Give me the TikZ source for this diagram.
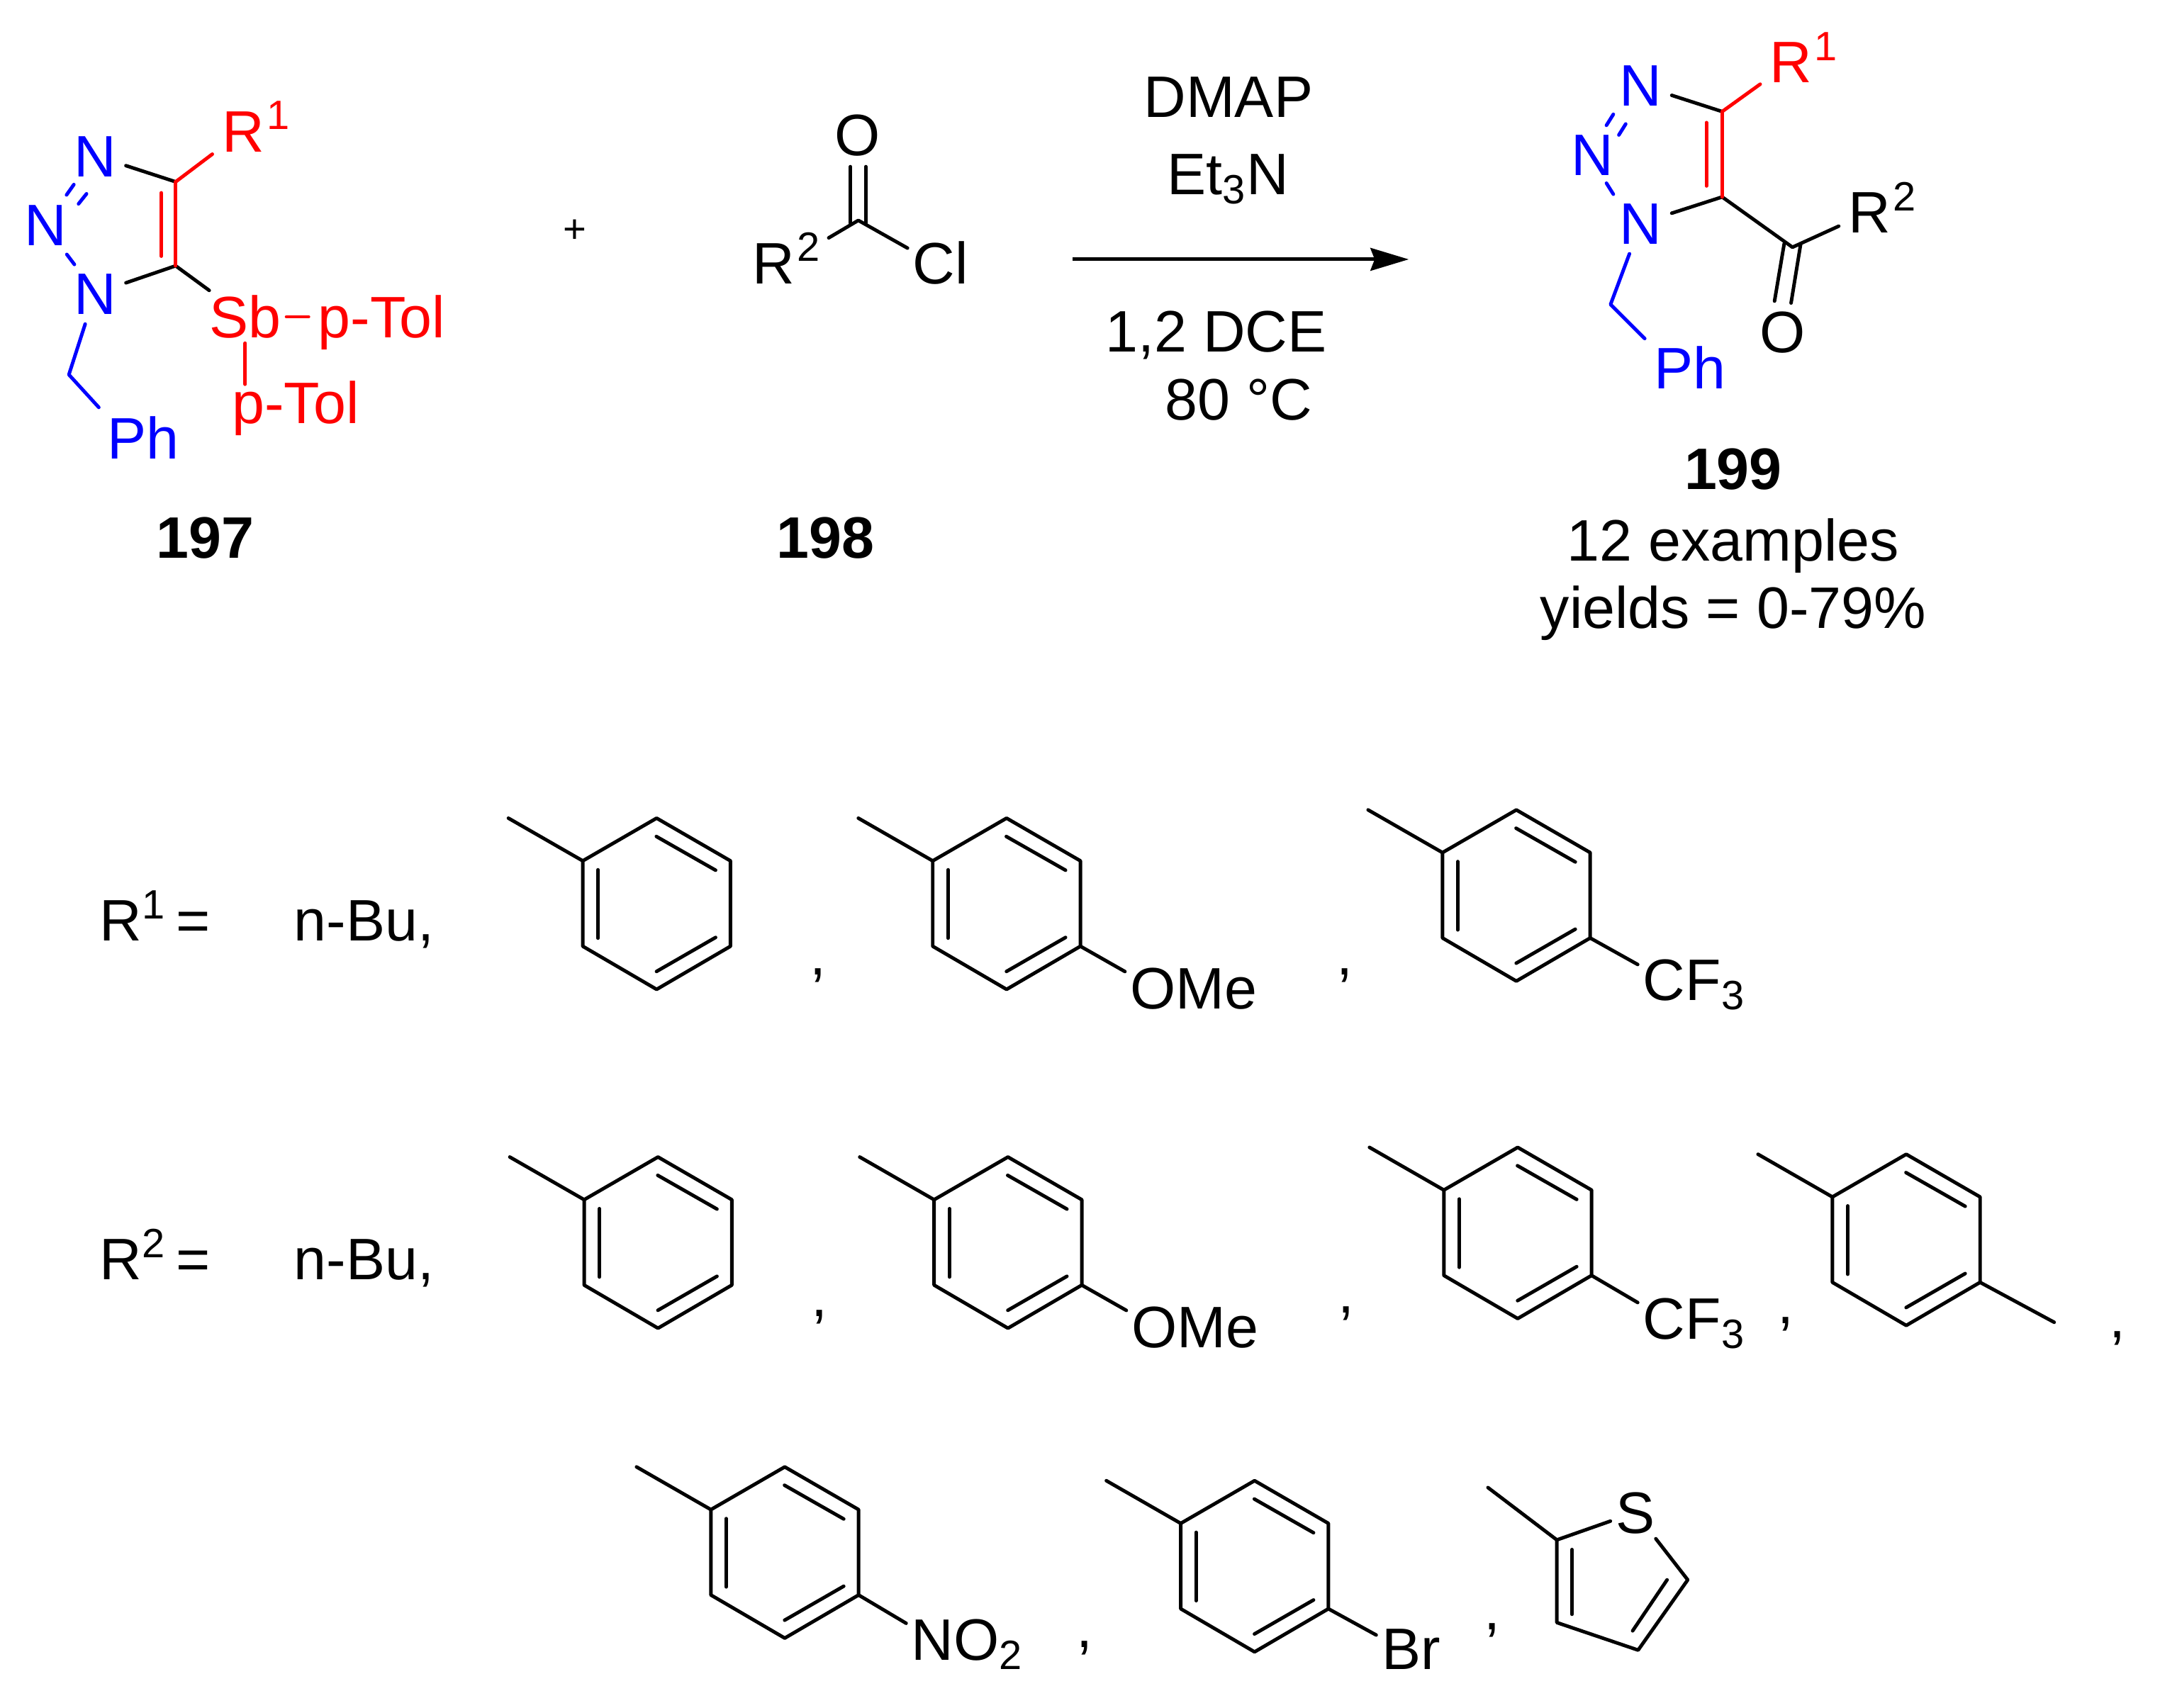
\documentclass[tikz,border=0pt]{standalone}
\usepackage{fontspec}
\setmainfont{Liberation Sans}
\usepackage{tikz}
\usetikzlibrary{arrows.meta}
\usetikzlibrary{positioning}

\newcommand{\arylring}[3]{
  \begin{scope}[shift={(#1, #2)}]
    \coordinate (#3) at (107.2, 62);
    \draw [bond] (-54, -31) -- (0, 0);
    \draw [bond] (0, 0) -- (53.6, -31) -- (107.2, 0) -- (107.2, 62) -- (53.6, 93.3) -- (0, 62) -- cycle;
    \draw [bond] (53.4, -17.7) -- (96.4, 6.8);
    \draw [bond] (11.1, 6.5) -- (11.1, 56.1);
    \draw [bond] (96.4, 55.6) -- (53.5, 80.3);
  \end{scope}
}

\begin{document}
\begin{tikzpicture}
      [x=0.019435cm, y=-0.019435cm,
      atom/.style={inner sep=0.13cm, text height=16.8pt, text depth=0pt, font=\fontsize{23.5}{27}\selectfont},
      ringatom/.style={atom, inner sep=0.07cm},
      label/.style={inner sep=0pt, text height=16.8pt, text depth=0pt, font=\fontsize{23.5}{27}\selectfont},
      comma/.style={inner sep=0pt, anchor=base, font=\fontsize{23.5}{27}\selectfont},
      compound/.style={label, font=\fontsize{23.5}{27}\selectfont\bfseries},
      bond/.style={line width=1.4pt, line cap=round, line join=round},
      >={Stealth[length=0.54cm, width=0.32cm, inset=0.06cm]}]
      \useasboundingbox (0, 0) rectangle (1567.8, 1240.04);

      % reactant 197
      \node (na) [atom, blue] at (69, 113) {N};
      \node (nb) [atom, blue] at (33, 163) {N};
      \node (nc) [atom, blue] at (69, 213) {N};
      \node (ra) [atom, red] at (176.5, 95) {R\rlap{\kern1pt\textsuperscript{1}}};
      \node (pha) [atom, blue] at (92, 318) {P\rlap{h}};
      \node (sb) [ringatom, red] at (178, 230) {Sb};
      \node (tola) [atom, red] at (277, 230) {p-Tol};
      \node (tolb) [atom, red] at (214.5, 292) {p-Tol};
      \coordinate (ca) at (127.5, 132);
      \coordinate (cb) at (127.5, 193);
      \coordinate (cc) at (50, 272);
      \coordinate (ia) at (117, 140);
      \coordinate (ib) at (117, 186);
      \coordinate (tt) at (178, 279);
      \coordinate (da) at (53.6, 134);
      \coordinate (db) at (48.3, 141.5);
      \coordinate (dc) at (62.8, 140.7);
      \coordinate (dd) at (57, 148);
      \coordinate (de) at (48.5, 184.7);
      \coordinate (df) at (54, 192);

      \draw [bond] (na) -- (ca);
      \draw [bond] (nc) -- (cb);
      \draw [bond] (cb) -- (sb);
      \draw [bond, red] (ca) -- (ra);
      \draw [bond, red] (ca) -- (cb);
      \draw [bond, red] (ia) -- (ib);
      \draw [bond, red] (sb) -- (tola);
      \draw [bond, red] (sb) -- (tt);
      \draw [bond, blue] (da) -- (db);
      \draw [bond, blue] (dc) -- (dd);
      \draw [bond, blue] (de) -- (df);
      \draw [bond, blue] (nc) -- (cc) -- (pha);

      \node (numa) [compound] at (149, 390) {197};
      \node (plus) [inner sep=0pt, font=\fontsize{16}{18}\selectfont] at (417, 168) {+};

      % reactant 198
      \node (oa) [atom] at (622.6, 98) {O};
      \node (rb) [atom] at (561.3, 191) {R\rlap{\kern1pt\textsuperscript{2}}};
      \node (cl) [ringatom] at (678, 191) {C\rlap{l}};
      \coordinate (cd) at (623, 160);
      \coordinate (ce) at (601.5, 172.7);
      \coordinate (oc) at (617.3, 121);
      \coordinate (od) at (617.3, 162);
      \coordinate (oe) at (628.4, 121);
      \coordinate (of) at (628.4, 162);
      \draw [bond] (oc) -- (od);
      \draw [bond] (oe) -- (of);
      \draw [bond] (ce) -- (cd) -- (cl);
      \node (numb) [compound] at (599, 390) {198};

      % conditions
      \coordinate (arra) at (778.6, 188.3);
      \coordinate (arrb) at (1022.5, 188.3);
      \draw [->, line width=1.4pt] (arra) -- (arrb);
      \node (dmap) [label] at (891.6, 70) {DMAP};
      \node (etn) [label] at (891.3, 126) {Et\textsubscript{3}N};
      \node (dce) [label] at (882.8, 240.3) {1,2 DCE};
      \node (temp) [label] at (899.2, 289.7) {80 °C};

      % product 199
      \node (nd) [atom, blue] at (1191, 62) {N};
      \node (ne) [atom, blue] at (1156, 112) {N};
      \node (nf) [atom, blue] at (1191, 162) {N};
      \node (rc) [atom, red] at (1300, 45) {R\rlap{\kern1pt\textsuperscript{1}}};
      \node (rd) [atom] at (1357, 154) {R\rlap{\kern1pt\textsuperscript{2}}};
      \node (ob) [atom] at (1294, 241) {O};
      \node (phb) [atom, blue] at (1215, 267) {P\rlap{h}};
      \coordinate (cf) at (1250, 81);
      \coordinate (cg) at (1250, 143);
      \coordinate (ch) at (1169, 221);
      \coordinate (ci) at (1301, 179.5);
      \coordinate (ic) at (1238.5, 89);
      \coordinate (id) at (1238.5, 135);
      \coordinate (dg) at (1171, 83);
      \coordinate (dh) at (1166, 91);
      \coordinate (di) at (1180, 90);
      \coordinate (dj) at (1175, 98);
      \coordinate (dk) at (1166, 133);
      \coordinate (dl) at (1171, 141);
      \coordinate (og) at (1295, 177);
      \coordinate (oh) at (1288, 218.6);
      \coordinate (oi) at (1307, 177);
      \coordinate (oj) at (1300, 220);

      \draw [bond] (nd) -- (cf);
      \draw [bond] (nf) -- (cg);
      \draw [bond] (cg) -- (ci) -- (rd);
      \draw [bond] (og) -- (oh);
      \draw [bond] (oi) -- (oj);
      \draw [bond, red] (cf) -- (rc);
      \draw [bond, red] (cf) -- (cg);
      \draw [bond, red] (ic) -- (id);
      \draw [bond, blue] (dg) -- (dh);
      \draw [bond, blue] (di) -- (dj);
      \draw [bond, blue] (dk) -- (dl);
      \draw [bond, blue] (nf) -- (ch) -- (phb);

      \node (numc) [compound] at (1258, 340) {199};
      \node (exa) [label] at (1258, 392) {12 examples};
      \node (yld) [label] at (1258, 441) {yields = 0-79\%};

      % R1 row
      \node (rone) [label, anchor=west] at (72, 668) {R\textsuperscript{1}\kern-2.5pt\ =};
      \node (buone) [label, anchor=west] at (213, 668) {n-Bu,};
      \arylring{423}{625}{pa}
      \arylring{677}{625}{pb}
      \arylring{1047}{619}{pc}
      \node (omea) [ringatom] at (837, 717) {O\rlap{Me}};
      \node (cfa) [ringatom] at (1208, 711) {C\rlap{F\textsubscript{3}}};
      \draw [bond] (pb) -- (omea);
      \draw [bond] (pc) -- (cfa);
      \node (coa) [comma] at (594, 708) {,};
      \node (cob) [comma] at (976, 708) {,};

      % R2 row
      \node (rtwo) [label, anchor=west] at (72, 914) {R\textsuperscript{2}\kern-2.5pt\ =};
      \node (butwo) [label, anchor=west] at (213, 914) {n-Bu,};
      \arylring{424}{871}{pd}
      \arylring{678}{871}{pe}
      \arylring{1048}{864}{pf}
      \arylring{1330}{869}{pg}
      \coordinate (mea) at (1491, 960);
      \node (omeb) [ringatom] at (838, 963) {O\rlap{Me}};
      \node (cfb) [ringatom] at (1208, 957) {C\rlap{F\textsubscript{3}}};
      \draw [bond] (pe) -- (omeb);
      \draw [bond] (pf) -- (cfb);
      \draw [bond] (pg) -- (mea);
      \node (coc) [comma] at (595, 956) {,};
      \node (cod) [comma] at (977, 953) {,};
      \node (coe) [comma] at (1296, 961) {,};
      \node (cof) [comma] at (1537, 971) {,};

      % last row
      \arylring{516}{1096}{ph}
      \arylring{857}{1106}{pi}
      \node (nob) [ringatom] at (677, 1190) {N\rlap{O\textsubscript{2}}};
      \node (bra) [ringatom] at (1017, 1197) {B\rlap{r}};
      \draw [bond] (ph) -- (nob);
      \draw [bond] (pi) -- (bra);
      \node (cog) [comma] at (787, 1196) {,};
      \node (coh) [comma] at (1083, 1183) {,};

      \node (sa) [ringatom] at (1187, 1098) {S};
      \coordinate (tha) at (1080, 1080);
      \coordinate (thb) at (1130, 1118);
      \coordinate (thc) at (1130, 1178);
      \coordinate (thd) at (1189, 1198);
      \coordinate (the) at (1225, 1147);
      \coordinate (thf) at (1141, 1125);
      \coordinate (thg) at (1141, 1172);
      \coordinate (thh) at (1210, 1147);
      \coordinate (thi) at (1185, 1184);
      \draw [bond] (tha) -- (thb) -- (sa);
      \draw [bond] (sa) -- (the) -- (thd) -- (thc) -- (thb);
      \draw [bond] (thf) -- (thg);
      \draw [bond] (thh) -- (thi);
    \end{tikzpicture}
\end{document}
